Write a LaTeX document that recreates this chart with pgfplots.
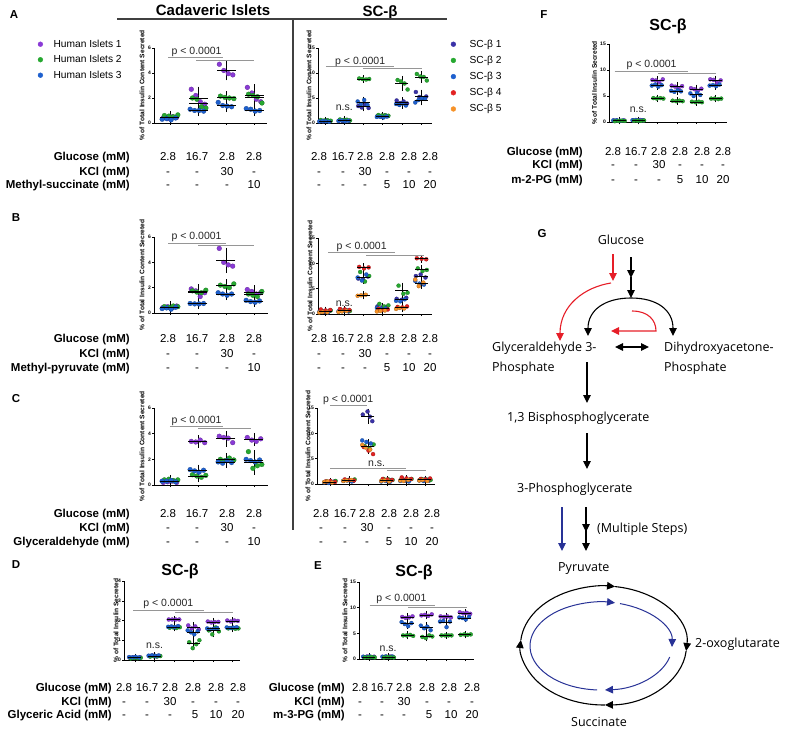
\documentclass[border=0pt]{standalone}
\usepackage{pgfplots}
\pgfplotsset{compat=1.18}
\usepackage{fontspec}
\setmainfont{Liberation Sans}
\newfontfamily\gfont{Open Sans}
\usetikzlibrary{arrows.meta}
\definecolor{cP}{RGB}{138,58,214}
\definecolor{cN}{RGB}{58,50,168}
\definecolor{cG}{RGB}{38,168,48}
\definecolor{cB}{RGB}{30,96,206}
\definecolor{cR}{RGB}{226,34,34}
\definecolor{cO}{RGB}{246,146,40}
\definecolor{brk}{RGB}{150,150,150}
\definecolor{gRed}{RGB}{230,30,40}
\definecolor{gBlu}{RGB}{40,50,150}
\pgfplotsset{
 gp/.style={scale only axis, anchor=south west, axis lines*=left, clip=false, tick align=outside, major tick length=2pt, tick style={black, line width=0.5pt}, axis line style={black, line width=0.6pt}, xticklabels={,,,,,,,}, ymin=0, yticklabel style={font=\fontsize{5}{5}\bfseries\selectfont, inner sep=1pt}, /pgf/number format/assume math mode=true, ylabel style={font=\fontsize{6.6}{6.6}\bfseries\selectfont, anchor=center}},
 dL/.style={only marks, mark=*, mark size=2.4pt, color=#1, mark options={fill=#1, draw=#1!70!black, line width=0.25pt}, forget plot},
 dS/.style={only marks, mark=*, mark size=2.0pt, color=#1, mark options={fill=#1, draw=#1!70!black, line width=0.25pt}, forget plot},
 mn/.style 2 args={only marks, mark=-, mark size=#1, color=black, mark options={line width=0.7pt}, forget plot, error bars/.cd, y dir=both, y explicit, error bar style={line width=0.5pt, black}, error mark options={mark size=#2, line width=0.5pt, black}},
}
\tikzset{br/.style={draw=brk, line width=0.9pt}, pv/.style={font=\fontsize{10.5}{12}\selectfont, inner sep=0pt, text=black!85},
 rl/.style={anchor=base east, inner sep=0pt, font=\fontsize{11.5}{13}\bfseries\selectfont},
 rv/.style={anchor=base, inner sep=0pt, font=\fontsize{11.5}{13}\selectfont},
 hd/.style={anchor=base, inner sep=0pt, font=\fontsize{11.5}{13}\bfseries\selectfont},
 tt/.style={anchor=base, inner sep=0pt, font=\fontsize{16}{18}\bfseries\selectfont},
 gt/.style={font=\gfont\fontsize{12.5}{14}\selectfont, inner sep=0pt, anchor=base west}}
\newcommand{\trow}[2]{\foreach \xx/\vv in {#2}{\node[rv] at (\xx,#1) {\vv};}}
\begin{document}
\begin{tikzpicture}
\path[use as bounding box] (0pt,0pt) rectangle (795pt,-730pt);
\begin{scope}[x=1pt,y=-1pt]
% headers
\node[hd] at (14,19) {A}; \node[hd] at (16,222) {B}; \node[hd] at (16,402) {C};
\node[hd] at (16,568) {D}; \node[hd] at (318,569) {E}; \node[hd] at (544,19) {F}; \node[hd] at (542,237) {G};
\node[anchor=base, inner sep=0pt, font=\fontsize{15}{17}\bfseries\selectfont] at (213,15.5) {Cadaveric Islets};
\node[anchor=base, inner sep=0pt, font=\fontsize{15}{17}\bfseries\selectfont] at (380,16.5) {SC-β};
\draw[line width=1.3pt, black!75] (117,19)--(447,19);
\draw[line width=1.6pt, black!75] (293,19)--(293,530);
\node[tt] at (180,575.5) {SC-β}; \node[tt] at (414,576.5) {SC-β}; \node[tt] at (668,30.5) {SC-β};
% rows A
\node[rl] at (130,161) {Glucose (mM)}; \node[rl] at (130,176) {KCl (mM)}; \node[rl] at (130,189) {Methyl-succinate (mM)};
\trow{161}{168/2.8,197/16.7,227/2.8,254/2.8}
\trow{176}{168/-,197/-,227/30,254/-}
\trow{189}{168/-,197/-,227/-,254/10}
\trow{161}{319/2.8,343/16.7,365/2.8,387/2.8,409/2.8,430/2.8}
\trow{176}{319/-,343/-,365/30,387/-,409/-,430/-}
\trow{189}{319/-,343/-,365/-,387/5,409/10,430/20}
% rows B
\node[rl] at (130,342) {Glucose (mM)}; \node[rl] at (130,357) {KCl (mM)}; \node[rl] at (130,371) {Methyl-pyruvate (mM)};
\trow{342}{168/2.8,197/16.7,227/2.8,254/2.8}
\trow{357}{168/-,197/-,227/30,254/-}
\trow{371}{168/-,197/-,227/-,254/10}
\trow{342}{319/2.8,343/16.7,365/2.8,387/2.8,409/2.8,430/2.8}
\trow{357}{319/-,343/-,365/30,387/-,409/-,430/-}
\trow{371}{319/-,343/-,365/-,387/5,409/10,430/20}
% rows C
\node[rl] at (130,517) {Glucose (mM)}; \node[rl] at (130,531) {KCl (mM)}; \node[rl] at (130,545) {Glyceraldehyde (mM)};
\trow{517}{168/2.8,197/16.7,227/2.8,254/2.8}
\trow{531}{168/-,197/-,227/30,254/-}
\trow{545}{168/-,197/-,227/-,254/10}
\trow{517}{321/2.8,345/16.7,367/2.8,389/2.8,411/2.8,432/2.8}
\trow{531}{321/-,345/-,367/30,389/-,411/-,432/-}
\trow{545}{321/-,345/-,367/-,389/5,411/10,432/20}
% rows D
\node[rl] at (112,691) {Glucose (mM)}; \node[rl] at (112,705) {KCl (mM)}; \node[rl] at (112,718) {Glyceric Acid (mM)};
\trow{691}{124/2.8,147/16.7,170/2.8,193/2.8,216/2.8,238/2.8}
\trow{705}{124/-,147/-,170/30,193/-,216/-,238/-}
\trow{718}{124/-,147/-,170/-,195/5,216/10,238/20}
% rows E
\node[rl] at (345,691) {Glucose (mM)}; \node[rl] at (345,705) {KCl (mM)}; \node[rl] at (345,718) {m-3-PG (mM)};
\trow{691}{360/2.8,382/16.7,404/2.8,427/2.8,449/2.8,472/2.8}
\trow{705}{360/-,382/-,404/30,427/-,449/-,472/-}
\trow{718}{360/-,382/-,404/-,429/5,451/10,472/20}
% rows F
\node[rl] at (583,156) {Glucose (mM)}; \node[rl] at (583,169) {KCl (mM)}; \node[rl] at (583,184) {m-2-PG (mM)};
\trow{156}{613/2.8,636/16.7,659/2.8,680/2.8,702/2.8,723/2.8}
\trow{169}{613/-,636/-,659/30,680/-,702/-,723/-}
\trow{184}{613/-,636/-,659/-,680/5,702/10,723/20}
% G diagram
\node[gt, anchor=base] at (621,244.5) {Glucose};
\node[gt] at (492,351.5) {Glyceraldehyde 3-};
\node[gt] at (492,371.5) {Phosphate};
\node[gt] at (664,351.5) {Dihydroxyacetone-};
\node[gt] at (664,371.5) {Phosphate};
\node[gt] at (507,421.5) {1,3 Bisphosphoglycerate};
\node[gt] at (517,492.5) {3-Phosphoglycerate};
\node[gt] at (597,532.5) {(Multiple Steps)};
\node[gt] at (558,571.5) {Pyruvate};
\node[gt] at (695,647.5) {2-oxoglutarate};
\node[gt, anchor=base] at (599,726.5) {Succinate};
\begin{scope}[line width=1.1pt, >={Triangle[width=7.5pt,length=8pt]}]
 \draw[gRed,->] (613,254) -- (613,281);
 \draw[gRed,->] (611,283) .. controls (585,287) and (560,305) .. (560,341);
 \draw[->] (631,257) -- (631,278);
 \draw[->] (631,277) -- (631,298);
 \draw[->] (631,298) .. controls (605,298) and (588,310) .. (588,336);
 \draw[->] (631,298) .. controls (657,298) and (673,310) .. (673,336);
 \draw[gRed,->] (632,311) .. controls (648,311) and (656,320) .. (656,331) -- (611,331);
 \draw[<->] (615,347) -- (649,347);
 \draw[->] (587,362) -- (587,403);
 \draw[->] (587,433) -- (587,469);
 \draw[gBlu,->] (562,507) -- (562,551);
 \draw[->] (586,507) -- (586,532);
 \draw[->] (586,530) -- (586,551);
 \draw[->] ([shift={(-174.7:83 and 59.5)}]603.5,645.5) arc[start angle=-174.7, end angle=-82, x radius=83, y radius=59.5];
 \draw[->] ([shift={(-82:83 and 59.5)}]603.5,645.5) arc[start angle=-82, end angle=5.3, x radius=83, y radius=59.5];
 \draw[->] ([shift={(5.3:83 and 59.5)}]603.5,645.5) arc[start angle=5.3, end angle=89, x radius=83, y radius=59.5];
 \draw[->] ([shift={(89:83 and 59.5)}]603.5,645.5) arc[start angle=89, end angle=185.3, x radius=83, y radius=59.5];
 \draw[gBlu,->, line width=1pt] ([shift={(-74.5:71 and 44)}]601,646) arc[start angle=-74.5, end angle=1.3, x radius=71, y radius=44];
 \draw[gBlu,->, line width=1pt] ([shift={(14.5:71 and 44)}]601,646) arc[start angle=14.5, end angle=86.8, x radius=71, y radius=44];
 \draw[gBlu,->, line width=1pt] ([shift={(93.2:71 and 44)}]601,646) arc[start angle=93.2, end angle=281.4, x radius=71, y radius=44];
\end{scope}
\end{scope}

% ===== A left =====
\begin{axis}[gp, at={(154pt,-123pt)}, width=113pt, height=75pt, xmin=-0.57, xmax=3.46, ymax=6, xtick={0,1,2,3}, ytick={0,2,4,6},
 ylabel={\% of Total Insulin Content Secreted}, ylabel style={at={(axis description cs:-0.106,0.5)}},
 legend style={at={(axis description cs:-1.03,1.139)}, anchor=north west, draw=none, fill=none, inner sep=0pt, font=\fontsize{10.2}{12}\selectfont, row sep=2.6pt, column sep=8.6pt}, legend cell align=left]
\addlegendimage{legend image code/.code={\fill[cP] (0pt,0pt) circle (2.4pt);}}\addlegendentry{Human Islets 1}
\addlegendimage{legend image code/.code={\fill[cG] (0pt,0pt) circle (2.4pt);}}\addlegendentry{Human Islets 2}
\addlegendimage{legend image code/.code={\fill[cB] (0pt,0pt) circle (2.4pt);}}\addlegendentry{Human Islets 3}
\addplot[dL=cP] coordinates {(-0.24,0.40)(-0.08,0.35)(0.08,0.50)(0.24,0.45)(0.76,2.70)(0.92,2.20)(1.08,1.70)(1.24,1.50)(1.76,4.70)(1.92,4.20)(2.08,3.95)(2.24,3.85)(2.76,2.85)(2.92,2.40)(3.08,1.90)(3.24,1.70)};
\addplot[dL=cG] coordinates {(-0.20,0.60)(-0.04,0.55)(0.12,0.50)(0.28,0.65)(0.80,2.00)(0.96,1.90)(1.12,1.30)(1.28,1.20)(1.80,2.15)(1.96,2.05)(2.12,2.00)(2.28,1.95)(2.80,2.30)(2.96,2.20)(3.12,2.10)(3.28,1.60)};
\addplot[dL=cB] coordinates {(-0.28,0.30)(-0.12,0.35)(0.04,0.25)(0.20,0.40)(0.72,1.10)(0.88,1.00)(1.04,1.00)(1.20,0.95)(1.72,1.65)(1.88,1.40)(2.04,1.35)(2.20,1.30)(2.72,1.15)(2.88,1.10)(3.04,0.95)(3.20,1.00)};
\addplot[mn={9.5pt}{5pt}] coordinates {(0,0.45)+-(0,0.12)(1,2.0)+-(0,0.5)(1,1.6)+-(0,0.4)(1,1.0)+-(0,0.06)(2,4.2)+-(0,0.4)(2,2.05)+-(0,0.1)(2,1.42)+-(0,0.15)(3,2.2)+-(0,0.5)(3,2.05)+-(0,0.3)(3,1.05)+-(0,0.09)};
\draw[br] (axis cs:-0.06,5.23) -- (axis cs:1.88,5.23);
\draw[br] (axis cs:0.93,5.02) -- (axis cs:2.98,5.02);
\node[pv] at (axis cs:0.95,5.68) {p < 0.0001};
\end{axis}

% ===== A right =====
\begin{axis}[gp, at={(318pt,-123pt)}, width=114pt, height=75pt, xmin=-0.365, xmax=5.57, ymax=15, xtick={0,...,5}, ytick={0,5,10,15},
 ylabel={\% of Total Insulin Content Secreted}, ylabel style={at={(axis description cs:-0.079,0.5)}},
 legend style={at={(axis description cs:1.163,1.139)}, anchor=north west, draw=none, fill=none, inner sep=0pt, font=\fontsize{10.2}{12}\selectfont, row sep=3.3pt, column sep=11.6pt}, legend cell align=left]
\addlegendimage{legend image code/.code={\fill[cN] (0pt,0pt) circle (2.4pt);}}\addlegendentry{SC-β 1}
\addlegendimage{legend image code/.code={\fill[cG] (0pt,0pt) circle (2.4pt);}}\addlegendentry{SC-β 2}
\addlegendimage{legend image code/.code={\fill[cB] (0pt,0pt) circle (2.4pt);}}\addlegendentry{SC-β 3}
\addlegendimage{legend image code/.code={\fill[cR] (0pt,0pt) circle (2.4pt);}}\addlegendentry{SC-β 4}
\addlegendimage{legend image code/.code={\fill[cO] (0pt,0pt) circle (2.4pt);}}\addlegendentry{SC-β 5}
\addplot[dS=cN] coordinates {(-0.27,0.40)(-0.09,0.30)(0.09,0.50)(0.27,0.35)(0.73,0.50)(0.91,0.40)(1.09,0.60)(1.27,0.45)(1.73,3.40)(1.91,3.10)(2.09,3.60)(2.27,3.00)(2.73,1.40)(2.91,1.30)(3.09,1.50)(3.27,1.35)(3.73,4.50)(3.91,4.00)(4.09,4.30)(4.27,3.90)(4.73,6.20)(4.91,5.20)(5.09,5.00)(5.27,5.30)};
\addplot[dS=cG] coordinates {(-0.22,0.60)(-0.04,0.50)(0.14,0.55)(0.30,0.45)(0.78,0.70)(0.96,0.60)(1.14,0.65)(1.30,0.50)(1.78,8.90)(1.96,8.80)(2.14,8.70)(2.30,8.80)(2.78,1.60)(2.96,1.50)(3.14,1.55)(3.30,1.45)(3.78,8.60)(3.96,8.30)(4.14,7.90)(4.30,6.70)(4.78,9.80)(4.96,9.30)(5.14,9.20)(5.30,8.50)};
\addplot[dS=cB] coordinates {(-0.30,0.30)(-0.13,0.40)(0.04,0.35)(0.21,0.25)(0.70,0.40)(0.87,0.50)(1.04,0.35)(1.21,0.45)(1.70,4.30)(1.87,3.80)(2.04,4.60)(2.21,3.60)(2.70,1.20)(2.87,1.25)(3.04,1.10)(3.21,1.30)(3.70,3.80)(3.87,3.60)(4.04,3.90)(4.21,3.50)(4.70,4.10)(4.87,4.60)(5.04,5.00)(5.21,4.80)};
\addplot[mn={6.5pt}{3.5pt}] coordinates {(0,0.42)+-(0,0.1)(1,0.5)+-(0,0.1)(2,3.3)+-(0,0.27)(2,8.8)+-(0,0.08)(2,4.1)+-(0,0.45)(3,1.38)+-(0,0.15)(4,4.2)+-(0,0.27)(4,7.9)+-(0,0.8)(4,3.7)+-(0,0.18)(5,5.4)+-(0,0.55)(5,9.2)+-(0,0.5)(5,4.6)+-(0,0.4)};
\draw[br] (axis cs:0.05,11.24) -- (axis cs:3.57,11.24);
\draw[br] (axis cs:2.0,10.9) -- (axis cs:5.04,10.9);
\node[pv] at (axis cs:1.83,12.2) {p < 0.0001};
\node[pv] at (axis cs:1,3.0) {n.s.};
\end{axis}

% ===== F =====
\begin{axis}[gp, at={(609pt,-122pt)}, width=118pt, height=78pt, xmin=-0.52, xmax=5.6, ymax=15, xtick={0,...,5}, ytick={0,5,10,15},
 ylabel={\% of Total Insulin Secreted}, ylabel style={at={(axis description cs:-0.123,0.5)}}]
\addplot[dS=cP] coordinates {(-0.27,0.30)(-0.09,0.25)(0.09,0.20)(0.27,0.30)(0.73,0.30)(0.91,0.35)(1.09,0.40)(1.27,0.30)(1.73,8.10)(1.91,8.00)(2.09,7.70)(2.27,8.20)(2.73,7.00)(2.91,6.80)(3.09,6.40)(3.27,6.90)(3.73,6.50)(3.91,6.30)(4.09,6.00)(4.27,6.40)(4.73,8.20)(4.91,8.10)(5.09,7.50)(5.27,8.00)};
\addplot[dS=cB] coordinates {(-0.30,0.30)(-0.13,0.35)(0.04,0.25)(0.21,0.30)(0.70,0.35)(0.87,0.40)(1.04,0.30)(1.21,0.35)(1.70,7.00)(1.87,7.20)(2.04,6.80)(2.21,7.10)(2.70,6.00)(2.87,5.80)(3.04,6.10)(3.21,5.90)(3.70,5.50)(3.87,5.00)(4.04,5.60)(4.21,5.20)(4.70,7.00)(4.87,7.10)(5.04,6.90)(5.21,7.20)};
\addplot[dS=cG] coordinates {(-0.22,0.15)(-0.04,0.20)(0.14,0.25)(0.30,0.20)(0.78,0.20)(0.96,0.25)(1.14,0.20)(1.30,0.30)(1.78,4.60)(1.96,4.50)(2.14,4.60)(2.30,4.50)(2.78,4.10)(2.96,4.00)(3.14,4.10)(3.30,4.00)(3.78,3.90)(3.96,3.80)(4.14,3.90)(4.30,3.80)(4.78,4.50)(4.96,4.50)(5.14,4.40)(5.30,4.50)};
\addplot[mn={6.5pt}{3.5pt}] coordinates {(0,0.25)+-(0,0.05)(1,0.3)+-(0,0.06)(2,8.0)+-(0,0.2)(2,7.03)+-(0,0.17)(2,4.55)+-(0,0.06)(3,6.78)+-(0,0.26)(3,5.95)+-(0,0.13)(3,4.05)+-(0,0.06)(4,6.3)+-(0,0.22)(4,5.33)+-(0,0.27)(4,3.85)+-(0,0.06)(5,7.95)+-(0,0.3)(5,7.05)+-(0,0.13)(5,4.48)+-(0,0.05)};
\draw[br] (axis cs:-0.23,9.79) -- (axis cs:3.6,9.79);
\draw[br] (axis cs:2.04,9.34) -- (axis cs:5.05,9.34);
\node[pv] at (axis cs:1.69,10.95) {p < 0.0001};
\node[pv] at (axis cs:1,2.38) {n.s.};
\end{axis}

% ===== B left =====
\begin{axis}[gp, at={(154pt,-313pt)}, width=114pt, height=76pt, xmin=-0.57, xmax=3.5, ymax=6, xtick={0,1,2,3}, ytick={0,2,4,6},
 ylabel={\% of Total Insulin Content Secreted}, ylabel style={at={(axis description cs:-0.106,0.5)}}]
\addplot[dL=cP] coordinates {(-0.24,0.45)(-0.08,0.50)(0.08,0.40)(0.24,0.55)(0.76,1.90)(0.92,1.75)(1.08,1.30)(1.24,1.60)(1.76,5.10)(1.92,4.00)(2.08,3.80)(2.24,3.70)(2.76,1.85)(2.92,1.70)(3.08,1.50)(3.24,1.60)};
\addplot[dL=cG] coordinates {(-0.20,0.50)(-0.04,0.45)(0.12,0.55)(0.28,0.50)(0.80,1.75)(0.96,1.65)(1.12,1.60)(1.28,1.80)(1.80,2.20)(1.96,2.10)(2.12,2.00)(2.28,2.30)(2.80,1.50)(2.96,1.40)(3.12,1.30)(3.28,1.70)};
\addplot[dL=cB] coordinates {(-0.28,0.35)(-0.12,0.40)(0.04,0.30)(0.20,0.45)(0.72,0.75)(0.88,0.72)(1.04,0.72)(1.20,0.75)(1.72,1.60)(1.88,1.50)(2.04,1.40)(2.20,1.50)(2.72,1.00)(2.88,0.90)(3.04,0.85)(3.20,0.95)};
\addplot[mn={9.5pt}{5pt}] coordinates {(0,0.47)+-(0,0.08)(1,1.64)+-(0,0.25)(1,1.7)+-(0,0.09)(1,0.73)+-(0,0.02)(2,4.15)+-(0,0.6)(2,2.15)+-(0,0.13)(2,1.5)+-(0,0.08)(3,1.66)+-(0,0.15)(3,1.48)+-(0,0.17)(3,0.93)+-(0,0.06)};
\draw[br] (axis cs:-0.06,5.53) -- (axis cs:2.0,5.53);
\draw[br] (axis cs:1.01,5.35) -- (axis cs:3.0,5.35);
\node[pv] at (axis cs:0.95,6.0) {p < 0.0001};
\end{axis}

% ===== B right =====
\begin{axis}[gp, at={(318pt,-314pt)}, width=114pt, height=76pt, xmin=-0.365, xmax=5.57, ymax=15, xtick={0,...,5}, ytick={0,5,10,15},
 ylabel={\% of Total Insulin Content Secreted}, ylabel style={at={(axis description cs:-0.07,0.5)}}]
\addplot[dS=cN] coordinates {(-0.27,0.5)(-0.02,0.4)(0.23,0.6)(0.73,0.6)(0.98,0.7)(1.23,0.5)(1.73,7.0)(1.98,6.8)(2.23,7.4)(2.73,1.5)(2.98,1.3)(3.23,1.4)(3.73,3.0)(3.98,2.8)(4.23,3.2)(4.73,7.5)(4.98,7.8)(5.23,7.2)};
\addplot[dS=cG] coordinates {(-0.17,0.6)(0.08,0.5)(0.30,0.7)(0.83,0.8)(1.08,0.7)(1.30,0.6)(1.83,8.3)(2.08,6.4)(2.30,7.5)(2.83,2.0)(3.08,1.5)(3.30,1.7)(3.83,5.6)(4.08,4.0)(4.30,4.2)(4.83,9.0)(5.08,8.5)(5.30,8.7)};
\addplot[dS=cB] coordinates {(-0.30,0.4)(-0.08,0.5)(0.15,0.3)(0.70,0.5)(0.92,0.6)(1.15,0.7)(1.70,7.2)(1.92,6.6)(2.15,7.8)(2.70,1.2)(2.92,1.0)(3.15,1.1)(3.70,2.6)(3.92,2.5)(4.15,2.9)(4.70,6.5)(4.92,6.0)(5.15,5.8)};
\addplot[dS=cR] coordinates {(-0.22,0.9)(0.03,0.7)(0.27,0.8)(0.78,1.0)(1.03,0.9)(1.27,0.8)(1.78,9.3)(2.03,9.0)(2.27,9.2)(2.78,1.0)(3.03,0.8)(3.27,0.9)(3.78,1.4)(4.03,1.3)(4.27,1.5)(4.78,11.0)(5.03,10.9)(5.27,10.8)};
\addplot[dS=cO] coordinates {(-0.30,0.3)(-0.12,0.4)(0.12,0.35)(0.70,0.4)(0.88,0.5)(1.12,0.6)(1.70,3.6)(1.88,3.7)(2.12,3.8)(2.70,0.5)(2.88,0.6)(3.12,0.7)(3.70,1.0)(3.88,1.2)(4.12,1.1)(4.70,6.8)(4.88,5.5)(5.12,6.2)};
\addplot[mn={6.5pt}{3.5pt}] coordinates {(0,0.55)+-(0,0.2)(1,0.68)+-(0,0.15)(2,9.17)+-(0,0.15)(2,7.2)+-(0,0.55)(2,3.7)+-(0,0.1)(3,1.1)+-(0,0.4)(4,4.6)+-(0,0.9)(4,2.83)+-(0,0.25)(4,1.25)+-(0,0.18)(5,10.9)+-(0,0.1)(5,8.73)+-(0,0.25)(5,7.5)+-(0,0.3)(5,6.13)+-(0,0.45)};
\draw[br] (axis cs:0.17,12.16) -- (axis cs:3.65,12.16);
\draw[br] (axis cs:2.14,11.57) -- (axis cs:5.13,11.57);
\node[pv] at (axis cs:1.91,13.2) {p < 0.0001};
\node[pv] at (axis cs:1,2.1) {n.s.};
\end{axis}

% ===== C left =====
\begin{axis}[gp, at={(154pt,-485pt)}, width=114pt, height=77pt, xmin=-0.57, xmax=3.5, ymax=6, xtick={0,1,2,3}, ytick={0,2,4,6},
 ylabel={\% of Total Insulin Content Secreted}, ylabel style={at={(axis description cs:-0.106,0.5)}}]
\addplot[dL=cP] coordinates {(-0.24,0.20)(-0.08,0.25)(0.08,0.30)(0.24,0.20)(0.76,3.40)(0.92,3.35)(1.08,3.50)(1.24,3.30)(1.76,3.80)(1.92,3.70)(2.08,3.65)(2.24,3.30)(2.76,3.70)(2.92,3.50)(3.08,3.40)(3.24,3.60)};
\addplot[dL=cG] coordinates {(-0.20,0.40)(-0.04,0.45)(0.12,0.35)(0.28,0.40)(0.80,0.80)(0.96,0.70)(1.12,0.60)(1.28,0.75)(1.80,2.00)(1.96,1.90)(2.12,2.10)(2.28,1.95)(2.80,2.60)(2.96,1.30)(3.12,1.50)(3.28,1.60)};
\addplot[dL=cB] coordinates {(-0.28,0.30)(-0.12,0.30)(0.04,0.35)(0.20,0.25)(0.72,1.20)(0.88,1.10)(1.04,1.00)(1.20,1.15)(1.72,1.80)(1.88,1.70)(2.04,1.90)(2.20,1.75)(2.72,2.00)(2.88,1.90)(3.04,1.80)(3.20,1.95)};
\addplot[mn={9.5pt}{5pt}] coordinates {(0,0.31)+-(0,0.08)(1,3.39)+-(0,0.08)(1,0.71)+-(0,0.09)(1,1.11)+-(0,0.09)(2,3.61)+-(0,0.22)(2,1.99)+-(0,0.09)(2,1.79)+-(0,0.09)(3,3.55)+-(0,0.13)(3,1.75)+-(0,0.58)(3,1.91)+-(0,0.09)};
\draw[br] (axis cs:0,4.57) -- (axis cs:1.88,4.57);
\draw[br] (axis cs:1.01,4.39) -- (axis cs:2.88,4.39);
\node[pv] at (axis cs:0.95,4.96) {p < 0.0001};
\end{axis}

% ===== C right =====
\begin{axis}[gp, at={(317pt,-484pt)}, width=118pt, height=76pt, xmin=-0.68, xmax=5.53, ymax=15, xtick={0,...,5}, ytick={0,5,10,15},
 ylabel={\% of Total Insulin Content Secreted}, ylabel style={at={(axis description cs:-0.076,0.5)}}]
\addplot[dS=cN] coordinates {(-0.27,0.4)(-0.02,0.3)(0.23,0.5)(0.73,0.7)(0.98,0.8)(1.23,0.6)(1.73,13.7)(1.98,14.3)(2.23,12.4)(2.10,13.3)(2.73,0.7)(2.98,0.6)(3.23,0.8)(3.73,0.8)(3.98,0.7)(4.23,0.9)(4.73,0.8)(4.98,0.9)(5.23,0.7)};
\addplot[dS=cG] coordinates {(-0.17,0.5)(0.08,0.4)(0.30,0.6)(0.83,0.8)(1.08,0.7)(1.30,0.9)(1.83,7.5)(2.08,7.0)(2.30,7.8)(2.83,1.0)(3.08,0.9)(3.30,0.8)(3.83,0.9)(4.08,0.8)(4.30,1.0)(4.83,1.0)(5.08,0.9)(5.30,0.8)};
\addplot[dS=cB] coordinates {(-0.30,0.3)(-0.08,0.2)(0.15,0.4)(0.70,0.6)(0.92,0.7)(1.15,0.5)(1.70,8.6)(1.92,8.3)(2.15,8.0)(2.70,0.5)(2.92,0.6)(3.15,0.4)(3.70,0.6)(3.92,0.7)(4.15,0.5)(4.70,0.7)(4.92,0.6)(5.15,0.8)};
\addplot[dS=cR] coordinates {(-0.22,0.5)(0.03,0.6)(0.27,0.4)(0.78,0.9)(1.03,0.8)(1.27,0.7)(1.78,7.3)(2.03,6.6)(2.27,5.9)(2.78,1.0)(3.03,0.9)(3.27,0.8)(3.78,1.3)(4.03,1.1)(4.27,1.0)(4.78,1.0)(5.03,0.9)(5.27,1.1)};
\addplot[dS=cO] coordinates {(-0.30,0.4)(-0.12,0.5)(0.12,0.3)(0.70,0.6)(0.88,0.7)(1.12,0.8)(1.70,7.7)(1.88,7.2)(2.12,6.8)(2.70,0.6)(2.88,0.7)(3.12,0.5)(3.70,0.7)(3.88,0.6)(4.12,0.8)(4.70,0.7)(4.88,0.8)(5.12,0.6)};
\addplot[mn={6.5pt}{3.5pt}] coordinates {(0,0.42)+-(0,0.1)(1,0.72)+-(0,0.1)(2,13.4)+-(0,0.8)(2,7.4)+-(0,0.75)(3,0.72)+-(0,0.18)(4,0.83)+-(0,0.2)(5,0.82)+-(0,0.13)};
\draw[br] (axis cs:0,15.47) -- (axis cs:1.96,15.47);
\node[pv] at (axis cs:0.96,16.5) {p < 0.0001};
\draw[br] (axis cs:0,3.1) -- (axis cs:4.0,3.1);
\draw[br] (axis cs:3.02,2.7) -- (axis cs:5.05,2.7);
\node[pv] at (axis cs:2.46,3.97) {n.s.};
\end{axis}

% ===== D =====
\begin{axis}[gp, at={(124pt,-660pt)}, width=116pt, height=79pt, xmin=-0.56, xmax=5.38, ymax=4, xtick={0,...,5}, ytick={0,1,2,3,4},
 ylabel={\% of Total Insulin Secreted}, ylabel style={at={(axis description cs:-0.069,0.5)}}]
\addplot[dS=cP] coordinates {(-0.27,0.12)(-0.09,0.13)(0.09,0.10)(0.27,0.14)(0.73,0.20)(0.91,0.22)(1.09,0.18)(1.27,0.21)(1.73,2.05)(1.91,2.05)(2.09,2.05)(2.27,2.05)(2.73,1.75)(2.91,1.60)(3.09,1.70)(3.27,1.55)(3.73,1.95)(3.91,1.90)(4.09,1.92)(4.27,1.93)(4.73,2.00)(4.91,1.95)(5.09,2.00)(5.27,1.98)};
\addplot[dS=cG] coordinates {(-0.22,0.08)(-0.04,0.10)(0.14,0.09)(0.30,0.11)(0.78,0.17)(0.96,0.19)(1.14,0.18)(1.30,0.20)(1.78,1.63)(1.96,1.65)(2.14,1.62)(2.30,1.66)(2.78,0.90)(2.96,0.60)(3.14,0.80)(3.30,1.00)(3.78,1.50)(3.96,1.30)(4.14,1.65)(4.30,1.45)(4.78,1.60)(4.96,1.62)(5.14,1.58)(5.30,1.60)};
\addplot[dS=cB] coordinates {(-0.30,0.15)(-0.13,0.14)(0.04,0.16)(0.21,0.13)(0.70,0.22)(0.87,0.24)(1.04,0.21)(1.21,0.23)(1.70,1.68)(1.87,1.70)(2.04,1.66)(2.21,1.72)(2.70,1.50)(2.87,1.40)(3.04,1.30)(3.21,1.45)(3.70,1.60)(3.87,1.55)(4.04,1.58)(4.21,1.62)(4.70,1.65)(4.87,1.62)(5.04,1.64)(5.21,1.66)};
\addplot[mn={6.5pt}{3.5pt}] coordinates {(0,0.12)+-(0,0.02)(1,0.2)+-(0,0.02)(2,2.05)+-(0,0.01)(2,1.66)+-(0,0.03)(3,1.65)+-(0,0.09)(3,1.41)+-(0,0.09)(3,0.83)+-(0,0.17)(4,1.93)+-(0,0.02)(4,1.59)+-(0,0.03)(4,1.48)+-(0,0.14)(5,1.98)+-(0,0.02)(5,1.62)+-(0,0.03)};
\draw[br] (axis cs:-0.09,2.52) -- (axis cs:3.53,2.52);
\draw[br] (axis cs:2.05,2.4) -- (axis cs:5.03,2.4);
\node[pv] at (axis cs:1.71,2.86) {p < 0.0001};
\node[pv] at (axis cs:1,0.71) {n.s.};
\end{axis}

% ===== E =====
\begin{axis}[gp, at={(359pt,-659pt)}, width=115pt, height=77pt, xmin=-0.52, xmax=5.47, ymax=15, xtick={0,...,5}, ytick={0,5,10,15},
 ylabel={\% of Total Insulin Secreted}, ylabel style={at={(axis description cs:-0.122,0.5)}}]
\addplot[dS=cP] coordinates {(-0.27,0.40)(-0.09,0.50)(0.09,0.35)(0.27,0.45)(0.73,0.40)(0.91,0.45)(1.09,0.50)(1.27,0.35)(1.73,8.20)(1.91,8.00)(2.09,8.10)(2.27,8.30)(2.73,8.50)(2.91,8.60)(3.09,8.40)(3.27,8.70)(3.73,8.30)(3.91,8.20)(4.09,8.30)(4.27,8.10)(4.73,9.10)(4.91,8.90)(5.09,9.00)(5.27,8.80)};
\addplot[dS=cB] coordinates {(-0.30,0.45)(-0.13,0.40)(0.04,0.50)(0.21,0.35)(0.70,0.45)(0.87,0.50)(1.04,0.40)(1.21,0.50)(1.70,7.20)(1.87,6.80)(2.04,6.40)(2.21,7.00)(2.70,6.50)(2.87,6.00)(3.04,6.30)(3.21,5.60)(3.70,7.30)(3.87,7.40)(4.04,6.20)(4.21,7.30)(4.70,8.10)(4.87,8.00)(5.04,7.70)(5.21,8.20)};
\addplot[dS=cG] coordinates {(-0.22,0.30)(-0.04,0.35)(0.14,0.40)(0.30,0.30)(0.78,0.30)(0.96,0.40)(1.14,0.35)(1.30,0.30)(1.78,4.60)(1.96,4.60)(2.14,4.70)(2.30,4.50)(2.78,4.30)(2.96,4.10)(3.14,4.60)(3.30,4.40)(3.78,4.60)(3.96,4.60)(4.14,4.60)(4.30,4.60)(4.78,4.70)(4.96,4.80)(5.14,4.70)(5.30,4.80)};
\addplot[mn={6.5pt}{3.5pt}] coordinates {(0,0.4)+-(0,0.06)(1,0.41)+-(0,0.06)(2,8.15)+-(0,0.13)(2,6.85)+-(0,0.34)(2,4.6)+-(0,0.08)(3,8.55)+-(0,0.13)(3,6.1)+-(0,0.38)(3,4.35)+-(0,0.21)(4,8.23)+-(0,0.1)(4,7.05)+-(0,0.55)(4,4.6)+-(0,0.02)(5,8.95)+-(0,0.13)(5,8.0)+-(0,0.2)(5,4.75)+-(0,0.06)};
\draw[br] (axis cs:0.03,10.4) -- (axis cs:3.43,10.4);
\draw[br] (axis cs:2.04,10.0) -- (axis cs:5.09,10.0);
\node[pv] at (axis cs:1.69,11.7) {p < 0.0001};
\node[pv] at (axis cs:1,1.95) {n.s.};
\end{axis}
\end{tikzpicture}
\end{document}
